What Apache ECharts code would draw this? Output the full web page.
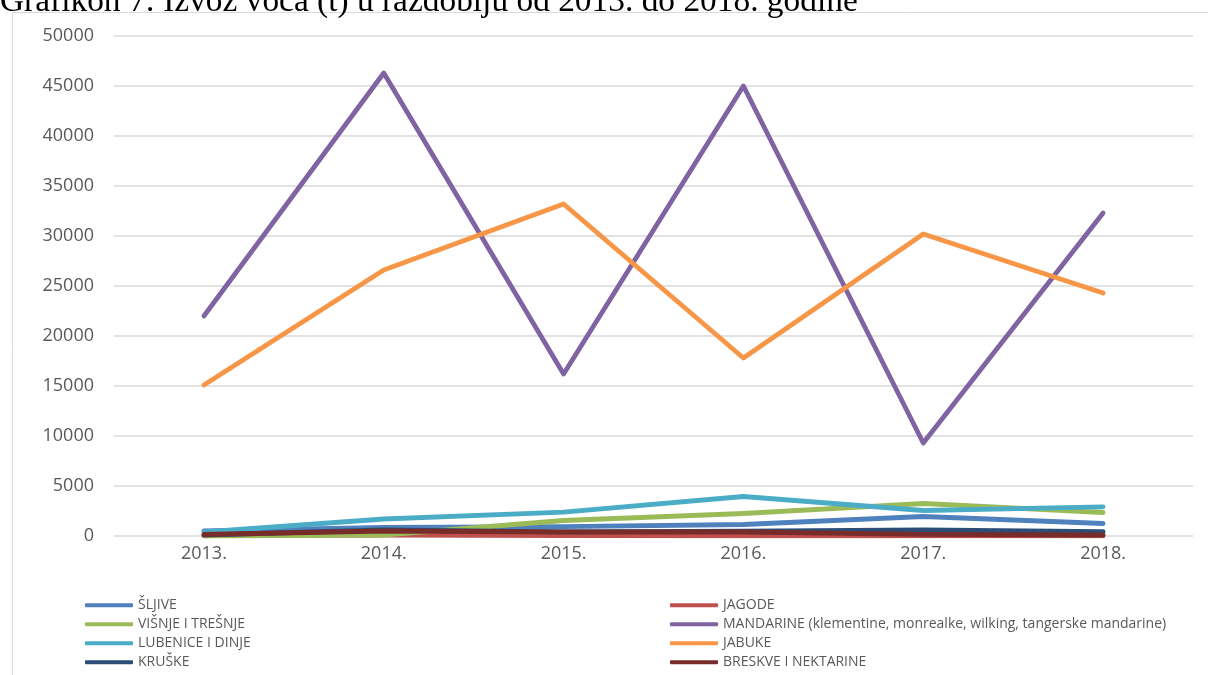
<!DOCTYPE html>
<html>
<head>
<meta charset="utf-8">
<script src="https://cdn.jsdelivr.net/npm/echarts@6/dist/echarts.min.js"></script>
<style>html,body{margin:0;padding:0;background:#fff;}#c{width:1208px;height:675px;}</style>
</head>
<body>
<div id="c"></div>
<script>
const categories = ['2013.', '2014.', '2015.', '2016.', '2017.', '2018.'];
const yTicks = [0, 5000, 10000, 15000, 20000, 25000, 30000, 35000, 40000, 45000, 50000];
const sljive = [500, 850, 930, 1150, 1950, 1250];
const jagode = [30, 80, 30, 10, 10, 10];
const visnje = [0, 100, 1550, 2250, 3250, 2350];
const mandarine = [22000, 46300, 16200, 45000, 9300, 32300];
const lubenice = [400, 1700, 2380, 3950, 2550, 2920];
const jabuke = [15100, 26600, 33200, 17800, 30200, 24300];
const kruske = [100, 600, 420, 480, 600, 430];
const breskve = [150, 500, 400, 400, 170, 100];

const names = ['ŠLJIVE', 'JAGODE', 'VIŠNJE I TREŠNJE', 'MANDARINE (klementine, monrealke, wilking, tangerske mandarine)', 'LUBENICE I DINJE', 'JABUKE', 'KRUŠKE', 'BRESKVE I NEKTARINE'];
const data = [sljive, jagode, visnje, mandarine, lubenice, jabuke, kruske, breskve];
const colors = ['#4F81BD', '#C0504D', '#9BBB59', '#8064A2', '#4BACC6', '#F79646', '#2C4D75', '#772C2A'];

const chart = echarts.init(document.getElementById('c'));
const legendCommon = {
  orient: 'vertical', itemWidth: 48, itemHeight: 4, itemGap: 3.5, height: 120,
  icon: 'roundRect', padding: 0,
  textStyle: { fontFamily: 'Open Sans', fontSize: 14, lineHeight: 15.5, color: '#595959' },
  selectedMode: false
};
chart.setOption({
  animation: false,
  color: colors,
  title: {
    text: 'Grafikon 7: Izvoz voća (t) u razdoblju od 2013. do 2018. godine',
    left: -5, top: -19,
    textStyle: { fontFamily: 'Liberation Serif', fontWeight: 'normal', fontSize: 33.4, color: '#000' }
  },
  graphic: [{
    type: 'rect', shape: { x: 12.5, y: 12.5, width: 1300, height: 800 },
    style: { fill: '#fff', stroke: '#d9d9d9', lineWidth: 1 }, silent: true, z: -1
  }],
  legend: [
    Object.assign({ left: 85, top: 597.5, data: [names[0], names[2], names[4], names[6]] }, legendCommon),
    Object.assign({ left: 670, top: 597.5, data: [names[1], names[3], names[5], names[7]] }, legendCommon)
  ],
  grid: { left: 114, right: 15, top: 36, bottom: 139, containLabel: false },
  xAxis: {
    type: 'category', data: categories, boundaryGap: true,
    axisLine: { show: false }, axisTick: { show: false },
    axisLabel: { fontFamily: 'Open Sans', fontSize: 18, color: '#595959', margin: 9 }
  },
  yAxis: {
    type: 'value', min: yTicks[0], max: yTicks[yTicks.length - 1], interval: yTicks[1] - yTicks[0],
    axisLine: { show: false }, axisTick: { show: false },
    axisLabel: { fontFamily: 'Open Sans', fontSize: 18, color: '#595959', margin: 20, formatter: v => String(v) },
    splitLine: { lineStyle: { color: '#d9d9d9', width: 1.5 } }
  },
  series: names.map((n, i) => ({
    name: n, type: 'line', data: data[i], symbol: 'none',
    lineStyle: { width: 4.8, color: colors[i], cap: 'round', join: 'round' },
    itemStyle: { color: colors[i] }
  }))
});
</script>
</body>
</html>
